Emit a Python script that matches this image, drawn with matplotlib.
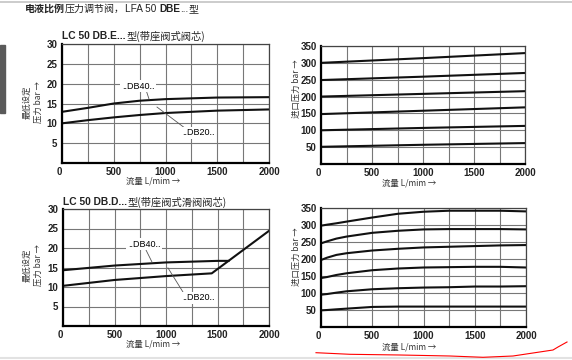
import matplotlib
matplotlib.use('Agg')
from matplotlib import pyplot as plt
from matplotlib.lines import Line2D
from matplotlib.patches import Rectangle

W, H = 572, 360
CJK = ['Noto Sans CJK SC', 'DejaVu Sans']
LAT = ['Liberation Sans', 'DejaVu Sans']

# --- data ---
flow = [0, 250, 500, 750, 1000, 1500, 2000]
e_db40 = [12.9, 13.9, 15.0, 15.7, 16.1, 16.5, 16.6]
e_db20 = [10.0, 10.8, 11.5, 12.1, 12.6, 13.2, 13.5]

d_db40_x = [0, 500, 1000, 1500, 1607]
d_db40 = [14.3, 15.5, 16.3, 16.7, 16.7]
d_db20_x = [0, 500, 1000, 1444, 2000]
d_db20 = [10.3, 11.8, 12.8, 13.5, 24.4]

inlet_x = [0, 1000, 2000]
inlet_e = [[300, 314, 329], [249, 259, 270], [200, 208, 216],
           [148, 158, 168], [100, 107, 113], [51, 57, 62]]

inlet_d_x = [0, 60, 150, 250, 500, 750, 1000, 1250, 1500, 1750, 2000]
inlet_d = [[298, 301, 305, 310, 322, 333, 339, 342, 342, 342, 340],
           [246, 252, 260, 266, 277, 283, 287, 288, 288, 288, 287],
           [197, 204, 212, 217, 225, 230, 234, 236, 238, 240, 241],
           [144, 147, 153, 158, 167, 172, 175, 176, 177, 177, 175],
           [95, 97, 101, 105, 111, 114, 116, 117, 119, 119, 120],
           [49, 50, 52, 54, 59, 60, 60, 60, 60, 60, 60]]

xlabel = '流量 L/mim →'
ylabel_left = '最低设定\n压力 bar →'
ylabel_right = '进口压力 bar →'

fig = plt.figure(figsize=(W / 100, H / 100), dpi=100)
fig.patch.set_facecolor('white')


def px(x, y):
    return x / W, 1 - y / H


def rect(l, t, r, b):
    return [l / W, 1 - b / H, (r - l) / W, (b - t) / H]


def rich(x, y, parts, size):
    renderer = fig.canvas.get_renderer()
    for s, bold, fam, gap in parts:
        t = fig.text(*px(x, y), s, fontsize=size, family=fam, va='center', ha='left',
                     fontweight='bold' if bold else 'normal', color='#222222')
        x += t.get_window_extent(renderer).width + gap


def setup(ax, ymax, ystep):
    ax.set_xlim(0, 2000)
    ax.set_ylim(0, ymax)
    ax.set_xticks(range(0, 2001, 500))
    ax.set_xticks(range(250, 2000, 500), minor=True)
    ax.set_xticklabels([str(v) for v in range(0, 2001, 500)])
    ax.get_xticklabels()[0].set_ha('right')
    ax.set_yticks(range(ystep, ymax + 1, ystep))
    ax.grid(True, which='both', color='#777777', lw=0.8)
    ax.tick_params(which='both', length=0, labelsize=7, pad=3.2)
    for lab in ax.get_xticklabels() + ax.get_yticklabels():
        lab.set_family(LAT)
        lab.set_fontweight('bold')
        lab.set_color('#222222')
    for s in ['left', 'bottom']:
        ax.spines[s].set_linewidth(1.6)
        ax.spines[s].set_color('black')
    for s in ['top', 'right']:
        ax.spines[s].set_linewidth(0.9)
        ax.spines[s].set_color('#444444')
    ax.set_axisbelow(True)


def tag(ax, text, tx, ty, lx, ly):
    ax.plot(lx, ly, color='#555555', lw=0.6, zorder=3)
    ax.text(tx, ty, text, fontsize=6.5, family=LAT, ha='center', va='center', zorder=4,
            bbox=dict(facecolor='white', edgecolor='none', pad=1))


ax1 = fig.add_axes(rect(62, 44, 269, 163))
ax2 = fig.add_axes(rect(321, 46, 525, 164))
ax3 = fig.add_axes(rect(63, 209, 269, 326))
ax4 = fig.add_axes(rect(321, 208, 526, 327))

setup(ax1, 30, 5)
setup(ax3, 30, 5)
setup(ax2, 350, 50)
setup(ax4, 350, 50)

ax1.plot(flow, e_db40, color='#111111', lw=1.5)
ax1.plot(flow, e_db20, color='#111111', lw=1.5)
tag(ax1, '..DB40..', 734, 19.4, [812, 841], [18.4, 16.1])
tag(ax1, '..DB20..', 1314, 7.6, [918, 1188], [14.1, 8.8])

ax3.plot(d_db40_x, d_db40, color='#111111', lw=1.5)
ax3.plot(d_db20_x, d_db20, color='#111111', lw=1.5)
tag(ax3, '..DB40..', 786, 21.0, [796, 864], [20.0, 16.4])
tag(ax3, '..DB20..', 1311, 7.2, [1019, 1184], [14.9, 7.9])

for ys in inlet_e:
    ax2.plot(inlet_x, ys, color='#111111', lw=1.5)
for ys in inlet_d:
    ax4.plot(inlet_d_x, ys, color='#111111', lw=1.5)

# axis labels
for cx, cy in [(153, 181), (153, 344), (409, 183), (409, 347)]:
    fig.text(*px(cx, cy), xlabel, family=CJK, fontsize=6, ha='center', va='center', color='#333333')
for cy in [102, 265]:
    fig.text(*px(33, cy), ylabel_left, family=CJK, fontsize=6, rotation=90, ha='center', va='center',
             multialignment='center', linespacing=1.3, color='#333333')
for cy in [89, 257]:
    fig.text(*px(296, cy), ylabel_right, family=CJK, fontsize=6, rotation=90, ha='center', va='center',
             color='#333333')

# titles
rich(25, 9, [('电液比例', True, CJK, 0), ('压力调节阀，', False, CJK, 0), ('LFA 50', False, LAT, 2.5),
             ('DBE', True, LAT, 0), ('...', False, LAT, 0.5), ('型', False, CJK, 0)], 7.2)
rich(62, 36, [('LC 50 DB.E...', True, LAT, 1), ('型(带座阀式阀芯)', False, CJK, 0)], 7.4)
rich(63, 202, [('LC 50 DB.D...', True, LAT, 1), ('型(带座阀式滑阀阀芯)', False, CJK, 0)], 7.4)

# page decorations
fig.add_artist(Line2D([0, 1], [1 - 2 / H] * 2, color='#c4c4c4', lw=1.2))
fig.add_artist(Line2D([0, 1], [1 - 358 / H] * 2, color='#e2e2e2', lw=1.5))
fig.add_artist(Rectangle(px(0, 113), 5 / W, 68 / H, color='#5a5a5a'))
scribble_x = [316, 350, 400, 450, 483, 513, 533, 553, 558, 567]
scribble_y = [352.7, 354.3, 355, 356, 357.3, 356, 353, 350, 347, 342]
fig.add_artist(Line2D([x / W for x in scribble_x], [1 - y / H for y in scribble_y], color='red', lw=0.8))

fig.savefig('out.png', dpi=100)
